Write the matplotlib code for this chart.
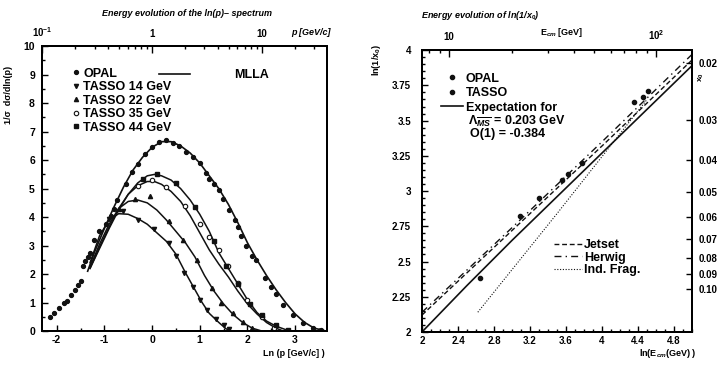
import numpy as np
import matplotlib
matplotlib.use('Agg')
import matplotlib.pyplot as plt
from matplotlib.ticker import MultipleLocator, FixedLocator, FixedFormatter, NullFormatter

plt.rcParams['font.family'] = ['Liberation Sans', 'DejaVu Sans']
plt.rcParams['font.weight'] = 'bold'
plt.rcParams['axes.unicode_minus'] = False
plt.rcParams['mathtext.fontset'] = 'custom'
plt.rcParams['mathtext.rm'] = 'Liberation Sans:bold'
plt.rcParams['mathtext.it'] = 'Liberation Sans:italic:bold'
plt.rcParams['mathtext.bf'] = 'Liberation Sans:bold'
plt.rcParams['mathtext.sf'] = 'Liberation Sans:bold'

# ---------------- left panel: ln(p) spectra ----------------
opal_x = [-2.15, -2.05, -1.95, -1.85, -1.78, -1.7, -1.62, -1.55, -1.5, -1.45,
          -1.4, -1.35, -1.3, -1.22, -1.12, -0.97, -0.87, -0.8, -0.73, -0.55,
          -0.41, -0.3, -0.14, 0.0, 0.15, 0.3, 0.43, 0.57, 0.71, 0.85,
          1.0, 1.13, 1.2, 1.3, 1.41, 1.48, 1.62, 1.73, 1.8, 1.87,
          1.98, 2.1, 2.19, 2.36, 2.5, 2.6, 2.74, 2.95, 3.16, 3.37, 3.55]
opal_y = [0.5, 0.65, 0.8, 1.0, 1.05, 1.25, 1.45, 1.6, 1.75, 2.3,
          2.45, 2.6, 2.75, 3.2, 3.5, 3.75, 4.05, 4.3, 4.6, 5.15,
          5.6, 5.85, 6.2, 6.45, 6.65, 6.72, 6.62, 6.5, 6.3, 6.1,
          5.9, 5.55, 5.35, 5.15, 4.95, 4.65, 4.25, 3.9, 3.65, 3.35,
          3.0, 2.65, 2.5, 1.85, 1.55, 1.3, 0.9, 0.55, 0.27, 0.12, 0.05]

t14_x = [-0.9, -0.6, -0.3, 0.05, 0.35, 0.5, 0.68, 0.85, 1.0, 1.15, 1.35, 1.5, 1.62]
t14_y = [3.95, 4.2, 3.9, 3.6, 3.1, 2.65, 2.05, 1.55, 1.1, 0.75, 0.42, 0.2, 0.08]
t22_x = [-0.7, -0.35, -0.05, 0.35, 0.65, 0.95, 1.25, 1.45, 1.7, 1.9, 2.1]
t22_y = [4.3, 4.65, 4.75, 3.85, 3.2, 2.5, 1.5, 1.0, 0.62, 0.3, 0.1]
t35_x = [-0.3, 0.0, 0.3, 0.7, 1.0, 1.2, 1.4, 1.6, 1.8, 2.0, 2.3, 2.55]
t35_y = [5.1, 5.3, 5.05, 4.4, 3.75, 3.3, 2.85, 2.3, 1.7, 1.1, 0.5, 0.12]
t44_x = [-0.2, 0.1, 0.5, 0.9, 1.3, 1.55, 1.8, 2.05, 2.3, 2.6, 2.85]
t44_y = [5.35, 5.5, 5.2, 4.35, 3.15, 2.3, 1.65, 0.95, 0.55, 0.2, 0.03]

# MLLA curves
mlla_opal_x = [-1.35, -1.2, -1.0, -0.8, -0.6, -0.4, -0.2, 0.0, 0.2, 0.4, 0.6, 0.8, 1.0,
               1.2, 1.4, 1.6, 1.8, 2.0, 2.2, 2.4, 2.6, 2.8, 3.0, 3.2, 3.4, 3.6]
mlla_opal_y = [2.1, 2.8, 3.6, 4.35, 5.05, 5.65, 6.1, 6.45, 6.65, 6.65, 6.5, 6.25, 5.9,
               5.45, 5.0, 4.45, 3.8, 3.1, 2.5, 1.95, 1.45, 1.0, 0.6, 0.3, 0.1, 0.02]
mlla44_x = [-1.3, -1.1, -0.9, -0.7, -0.5, -0.3, -0.1, 0.05, 0.2, 0.4, 0.6, 0.8, 1.0,
            1.2, 1.4, 1.6, 1.8, 2.0, 2.2, 2.4, 2.6, 2.8, 2.9]
mlla44_y = [2.2, 2.9, 3.6, 4.25, 4.8, 5.2, 5.45, 5.5, 5.45, 5.3, 5.0, 4.6, 4.1,
            3.5, 2.75, 2.2, 1.65, 1.1, 0.65, 0.35, 0.17, 0.05, 0.0]
mlla35_x = [-1.3, -1.1, -0.9, -0.7, -0.5, -0.3, -0.1, 0.05, 0.2, 0.4, 0.6, 0.8, 1.0,
            1.2, 1.4, 1.6, 1.8, 2.0, 2.2, 2.4, 2.6, 2.75]
mlla35_y = [2.2, 2.95, 3.65, 4.3, 4.8, 5.1, 5.25, 5.25, 5.15, 4.9, 4.55, 4.05, 3.45,
            2.85, 2.35, 1.9, 1.4, 0.95, 0.6, 0.3, 0.1, 0.0]
mlla22_x = [-1.3, -1.1, -0.9, -0.7, -0.5, -0.3, -0.1, 0.1, 0.3, 0.5, 0.7, 0.9, 1.1,
            1.3, 1.5, 1.7, 1.9, 2.1, 2.3]
mlla22_y = [2.25, 3.05, 3.75, 4.3, 4.55, 4.6, 4.5, 4.25, 3.9, 3.5, 3.1, 2.6, 1.95,
            1.4, 0.95, 0.58, 0.3, 0.1, 0.0]
mlla14_x = [-1.3, -1.1, -0.9, -0.7, -0.5, -0.3, -0.1, 0.1, 0.3, 0.5, 0.7, 0.9, 1.05,
            1.2, 1.4, 1.55, 1.65]
mlla14_y = [2.4, 3.35, 3.9, 4.12, 4.1, 3.95, 3.75, 3.45, 3.15, 2.7, 2.05, 1.45, 1.0,
            0.62, 0.3, 0.08, 0.0]

# ---------------- right panel: ln(1/x0) vs ln(Ecm) ----------------
r_opal_x = [4.36, 4.45, 4.51]
r_opal_y = [3.63, 3.67, 3.71]
r_tasso_x = [2.64, 3.09, 3.3, 3.56, 3.62, 3.78]
r_tasso_y = [2.38, 2.82, 2.95, 3.08, 3.12, 3.2]

expect_x = [2.0, 2.5, 3.0, 3.5, 4.0, 4.5, 5.0]
expect_y = [2.0, 2.33, 2.65, 2.96, 3.27, 3.58, 3.89]
jetset_x = [2.0, 3.0, 4.0, 5.0]
jetset_y = [2.12, 2.72, 3.32, 3.93]
herwig_x = [2.0, 3.0, 4.0, 5.0]
herwig_y = [2.14, 2.74, 3.35, 3.97]
indfrag_x = [2.62, 3.5, 4.5]
indfrag_y = [2.14, 2.84, 3.65]

p_ticks = [0.1, 1, 10]
p_labels = ['$10^{-1}$', '1', '10']
e_ticks = [10, 100]
e_labels = ['10', '$10^{2}$']
x0_ticks = [0.02, 0.03, 0.04, 0.05, 0.06, 0.07, 0.08, 0.09, 0.10]
x0_labels = ['0.02', '0.03', '0.04', '0.05', '0.06', '0.07', '0.08', '0.09', '0.10']
r_xticks = [2.0, 2.4, 2.8, 3.2, 3.6, 4.0, 4.4, 4.8]
r_xlabels = ['2', '2.4', '2.8', '3.2', '3.6', '4', '4.4', '4.8']
r_yticks = [2.0, 2.25, 2.5, 2.75, 3.0, 3.25, 3.5, 3.75, 4.0]
r_ylabels = ['2', '2.25', '2.5', '2.75', '3', '3.25', '3.5', '3.75', '4']

ink = '#111111'
fig = plt.figure(figsize=(7.22, 3.66), dpi=100)

# ---- left ----
ax1 = fig.add_axes([0.058, 0.0956, 0.395, 0.778])
h_mlla, = ax1.plot(mlla_opal_x, mlla_opal_y, color=ink, lw=1.2)
for xs, ys in [(mlla44_x, mlla44_y), (mlla35_x, mlla35_y),
               (mlla22_x, mlla22_y), (mlla14_x, mlla14_y)]:
    ax1.plot(xs, ys, color=ink, lw=1.1)
h_opal, = ax1.plot(opal_x, opal_y, 'o', ms=2.8, color=ink)
h14, = ax1.plot(t14_x, t14_y, 'v', ms=3, color=ink)
h22, = ax1.plot(t22_x, t22_y, '^', ms=3, color=ink)
h35, = ax1.plot(t35_x, t35_y, 'o', ms=3.2, mfc='white', mec=ink, mew=0.8)
h44, = ax1.plot(t44_x, t44_y, 's', ms=2.3, color=ink)

ax1.set_xlim(-2.31, 3.67)
ax1.set_ylim(0, 10)
ax1.xaxis.set_major_locator(MultipleLocator(1))
ax1.xaxis.set_minor_locator(MultipleLocator(0.5))
ax1.yaxis.set_major_locator(MultipleLocator(1))
ax1.yaxis.set_minor_locator(MultipleLocator(0.5))
ax1.tick_params(which='both', direction='in', labelsize=7.5, width=1)
ax1.tick_params(which='major', length=4)
ax1.tick_params(which='minor', length=2)
ax1.tick_params(axis='y', pad=5)
ax1.tick_params(axis='x', pad=3)

leg1 = ax1.legend([h_opal, h14, h22, h35, h44],
                  ['OPAL', 'TASSO 14 GeV', 'TASSO 22 GeV', 'TASSO 35 GeV', 'TASSO 44 GeV'],
                  loc='upper left', bbox_to_anchor=(0.11, 0.925), frameon=False,
                  fontsize=9, handlelength=0.5, handletextpad=0.3, labelspacing=0.12,
                  borderpad=0, borderaxespad=0, numpoints=1)
ax1.add_artist(leg1)
ax1.legend([h_mlla], ['MLLA'], loc='upper left', bbox_to_anchor=(0.41, 0.92),
           frameon=False, fontsize=9, handlelength=2.5, handletextpad=3.5,
           borderpad=0, borderaxespad=0)

ax1t = ax1.twiny()
ax1t.set_xscale('log')
ax1t.set_xlim(np.exp(-2.31), np.exp(3.67))
ax1t.xaxis.set_major_locator(FixedLocator(p_ticks))
ax1t.xaxis.set_major_formatter(FixedFormatter(p_labels))
ax1t.xaxis.set_minor_locator(FixedLocator([0.2, 0.3, 0.4, 0.5, 0.6, 0.7, 0.8, 0.9,
                                           2, 3, 4, 5, 6, 7, 8, 9, 20, 30]))
ax1t.xaxis.set_minor_formatter(NullFormatter())
ax1t.tick_params(which='both', direction='in', labelsize=7, width=1, pad=5)
ax1t.tick_params(which='major', length=5)
ax1t.tick_params(which='minor', length=2.5)

for ax in (ax1, ax1t):
    for s in ax.spines.values():
        s.set_linewidth(1.4)

# ---- right ----
ax2 = fig.add_axes([0.5845, 0.093, 0.374, 0.770])
h_exp, = ax2.plot(expect_x, expect_y, color=ink, lw=1.2)
h_jet, = ax2.plot(jetset_x, jetset_y, color=ink, lw=1.0, ls=(0, (3.5, 2)))
h_her, = ax2.plot(herwig_x, herwig_y, color=ink, lw=1.0, ls=(0, (5, 3, 1, 3)))
h_ind, = ax2.plot(indfrag_x, indfrag_y, color=ink, lw=0.8, ls=(0, (1, 1.5)))
h_ropal, = ax2.plot(r_opal_x, r_opal_y, 'o', ms=3, color=ink)
h_rtasso, = ax2.plot(r_tasso_x, r_tasso_y, 'o', ms=3, color=ink)

ax2.set_xlim(2, 5)
ax2.set_ylim(2, 4)
ax2.xaxis.set_major_locator(FixedLocator(r_xticks))
ax2.xaxis.set_major_formatter(FixedFormatter(r_xlabels))
ax2.xaxis.set_minor_locator(MultipleLocator(0.1))
ax2.yaxis.set_major_locator(FixedLocator(r_yticks))
ax2.yaxis.set_major_formatter(FixedFormatter(r_ylabels))
ax2.yaxis.set_minor_locator(MultipleLocator(0.05))
ax2.tick_params(which='both', direction='in', labelsize=7, width=1)
ax2.tick_params(which='major', length=4)
ax2.tick_params(which='minor', length=2)
ax2.tick_params(axis='y', pad=8)
ax2.tick_params(axis='x', pad=3)

leg2 = ax2.legend([h_ropal, h_rtasso, h_exp], ['OPAL', 'TASSO', 'Expectation for'],
                  loc='upper left', bbox_to_anchor=(0.07, 0.92), frameon=False,
                  fontsize=9, handlelength=1.8, handletextpad=0.2, labelspacing=0.2,
                  borderpad=0, borderaxespad=0, numpoints=1)
ax2.add_artist(leg2)
ax2.legend([h_jet, h_her, h_ind], ['Jetset', 'Herwig', 'Ind. Frag.'],
           loc='upper left', bbox_to_anchor=(0.49, 0.33), frameon=False,
           fontsize=9, handlelength=2.2, handletextpad=0.2, labelspacing=0.05,
           borderpad=0, borderaxespad=0)
ax2.text(0.17, 0.748, r'$\Lambda_{\overline{MS}}$ = 0.203 GeV', transform=ax2.transAxes,
         fontsize=9, va='center', ha='left')
ax2.text(0.178, 0.702, 'O(1) = -0.384', transform=ax2.transAxes,
         fontsize=9, va='center', ha='left')

ax2t = ax2.twiny()
ax2t.set_xscale('log')
ax2t.set_xlim(np.exp(2), np.exp(5))
ax2t.xaxis.set_major_locator(FixedLocator(e_ticks))
ax2t.xaxis.set_major_formatter(FixedFormatter(e_labels))
ax2t.xaxis.set_minor_locator(FixedLocator([8, 9, 20, 30, 40, 50, 60, 70, 80, 90]))
ax2t.xaxis.set_minor_formatter(NullFormatter())
ax2t.tick_params(which='both', direction='in', labelsize=7, width=1, pad=6)
ax2t.tick_params(which='major', length=5)
ax2t.tick_params(which='minor', length=2.5)

ax2r = ax2.twinx()
ax2r.set_yscale('log')
ax2r.set_ylim(np.exp(-2), np.exp(-4))
ax2r.yaxis.set_major_locator(FixedLocator(x0_ticks))
ax2r.yaxis.set_major_formatter(FixedFormatter(x0_labels))
ax2r.yaxis.set_minor_locator(FixedLocator([]))
ax2r.yaxis.set_minor_formatter(NullFormatter())
ax2r.tick_params(which='both', direction='in', labelsize=7, width=1, length=4, pad=5)

for ax in (ax2, ax2t, ax2r):
    for s in ax.spines.values():
        s.set_linewidth(1.4)

# ---- titles and axis labels ----
fig.text(0.259, 0.964, 'Energy evolution of the ln(p)\u2013 spectrum', fontsize=6.5,
         ha='center', va='center', style='italic')
fig.text(0.665, 0.959, 'Energy evolution of ln(1/x$_0$)', fontsize=6.5,
         ha='center', va='center', style='italic')
fig.text(0.012, 0.74, '1/\u03c3  d\u03c3/dln(p)', rotation=90, fontsize=6.5,
         ha='center', va='center')
fig.text(0.522, 0.835, 'ln(1/x$_0$)', rotation=90, fontsize=6.5, ha='center', va='center')
fig.text(0.972, 0.79, 'x$_0$', rotation=90, fontsize=6, ha='center', va='center')
fig.text(0.45, 0.035, 'Ln (p [GeV/c] )', fontsize=6.5, ha='right', va='center')
fig.text(0.965, 0.033, 'ln(E$_{cm}$(GeV) )', fontsize=6.5, ha='right', va='center')
fig.text(0.43, 0.91, 'p [GeV/c]', fontsize=6.5, ha='center', va='center', style='italic')
fig.text(0.778, 0.91, 'E$_{cm}$ [GeV]', fontsize=6.5, ha='center', va='center')

fig.savefig('out.png', dpi=100)
